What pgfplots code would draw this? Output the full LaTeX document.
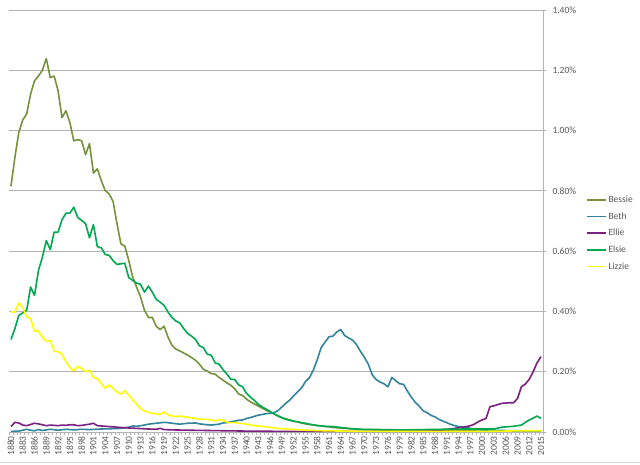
\documentclass[border=0pt]{standalone}
\usepackage{fontspec}
\setmainfont{Carlito}
\usepackage{pgfplots}
\pgfplotsset{compat=1.18}
\definecolor{cBessie}{HTML}{76923C}
\definecolor{cBeth}{HTML}{31849B}
\definecolor{cEllie}{HTML}{7A2080}
\definecolor{cElsie}{HTML}{00A84F}
\definecolor{cLizzie}{HTML}{FFFF00}
\definecolor{lbl}{HTML}{595959}
\definecolor{grd}{HTML}{B3B3B3}
\definecolor{brd}{HTML}{D9D9D9}
\begin{document}
\begin{tikzpicture}[x=1pt,y=1pt]
\fill[white] (0,0) rectangle (640,464);
\draw[draw=brd, line width=1pt] (0,1.5) -- (640,1.5);
\begin{axis}[
  at={(9pt,32pt)}, anchor=south west,
  scale only axis, width=534pt, height=422pt,
  xmin=1879.5, xmax=2015.5, ymin=0, ymax=1.4,
  axis x line*=bottom, axis y line*=right,
  axis line style={draw=grd, line width=0.8pt},
  /pgf/number format/assume math mode=true,
  xtick={1880,1883,...,2015},
  minor xtick={1879.5,1880.5,...,2015.5},
  major x tick style={draw=none},
  minor x tick style={draw=grd, line width=0.6pt},
  minor tick length=3pt,
  major tick length=3pt,
  tick align=outside,
  ytick={0,0.2,0.4,0.6,0.8,1.0,1.2,1.4},
  ytick style={draw=grd, line width=0.8pt},
  ymajorgrids, grid style={draw=grd, line width=0.8pt},
  xticklabel style={rotate=90, anchor=east, font=\fontsize{9.5}{10}\selectfont, text=lbl, inner sep=1pt},
  xticklabel={\pgfmathprintnumber[fixed,precision=0,1000 sep={}]{\tick}},
  yticklabel style={anchor=west, font=\fontsize{9.5}{10}\selectfont, text=lbl, xshift=3pt},
  yticklabel={\pgfmathprintnumber[fixed,fixed zerofill,precision=2]{\tick}\%},
  legend style={draw=none, fill=none, at={(rel axis cs:1.080,0.565)}, anchor=north west,
    font=\fontsize{9.5}{10}\selectfont, text=lbl, row sep=4.6pt, inner sep=0pt},
  legend cell align=left,
  legend image code/.code={\draw[#1, line width=1.6pt] (0pt,0pt) -- (19pt,0pt);},
  every axis plot/.append style={line width=1.6pt, line join=round},
  clip=false,
]
\addplot[cBessie] coordinates {
(1880,0.815)(1881,0.911)(1882,0.994)(1883,1.035)(1884,1.055)(1885,1.121)(1886,1.165)(1887,1.181)(1888,1.200)(1889,1.239)
(1890,1.176)(1891,1.181)(1892,1.132)(1893,1.043)(1894,1.066)(1895,1.027)(1896,0.966)(1897,0.970)(1898,0.966)(1899,0.920)
(1900,0.957)(1901,0.859)(1902,0.873)(1903,0.834)(1904,0.801)(1905,0.790)(1906,0.765)(1907,0.691)(1908,0.624)(1909,0.617)
(1910,0.569)(1911,0.514)(1912,0.481)(1913,0.448)(1914,0.404)(1915,0.380)(1916,0.380)(1917,0.351)(1918,0.340)(1919,0.351)
(1920,0.315)(1921,0.288)(1922,0.275)(1923,0.269)(1924,0.262)(1925,0.255)(1926,0.247)(1927,0.238)(1928,0.225)(1929,0.208)
(1930,0.202)(1931,0.194)(1932,0.192)(1933,0.181)(1934,0.172)(1935,0.163)(1936,0.155)(1937,0.143)(1938,0.126)(1939,0.121)
(1940,0.109)(1941,0.100)(1942,0.093)(1943,0.086)(1944,0.079)(1945,0.072)(1946,0.067)(1947,0.060)(1948,0.054)(1949,0.048)
(1950,0.044)(1951,0.040)(1952,0.036)(1953,0.033)(1954,0.030)(1955,0.027)(1956,0.025)(1957,0.023)(1958,0.022)(1959,0.020)
(1960,0.018)(1961,0.017)(1962,0.015)(1963,0.014)(1964,0.013)(1966,0.011)(1970,0.008)(1980,0.005)(1990,0.004)(2000,0.003)(2015,0.003)
};
\addlegendentry{Bessie}
\addplot[cBeth] coordinates {
(1880,0.002)(1882,0.003)(1884,0.009)(1885,0.006)(1886,0.004)(1887,0.008)(1888,0.005)(1890,0.009)(1892,0.006)(1894,0.009)
(1896,0.007)(1898,0.009)(1900,0.008)(1903,0.010)(1906,0.011)(1908,0.012)(1910,0.016)(1911,0.020)(1912,0.019)(1914,0.023)
(1915,0.026)(1917,0.029)(1919,0.032)(1920,0.031)(1921,0.029)(1923,0.026)(1925,0.029)(1927,0.030)(1928,0.027)(1930,0.024)
(1931,0.023)(1933,0.026)(1934,0.030)(1935,0.031)(1936,0.034)(1937,0.036)(1938,0.039)(1939,0.040)(1940,0.045)(1941,0.048)
(1942,0.052)(1943,0.056)(1944,0.058)(1945,0.061)(1946,0.062)(1947,0.064)(1948,0.071)(1949,0.083)(1950,0.095)(1951,0.106)
(1952,0.120)(1953,0.133)(1954,0.146)(1955,0.167)(1956,0.180)(1957,0.205)(1958,0.240)(1959,0.280)(1960,0.298)(1961,0.316)
(1962,0.318)(1963,0.332)(1964,0.340)(1965,0.320)(1966,0.312)(1967,0.305)(1968,0.290)(1969,0.268)(1970,0.248)(1971,0.225)
(1972,0.190)(1973,0.174)(1974,0.166)(1975,0.160)(1976,0.150)(1977,0.181)(1978,0.170)(1979,0.160)(1980,0.158)(1981,0.135)
(1982,0.115)(1983,0.098)(1984,0.085)(1985,0.070)(1986,0.064)(1987,0.055)(1988,0.050)(1989,0.042)(1990,0.036)(1991,0.031)
(1992,0.025)(1993,0.021)(1994,0.018)(1995,0.016)(1996,0.015)(1997,0.012)(1998,0.009)(2000,0.007)(2005,0.005)(2015,0.003)
};
\addlegendentry{Beth}
\addplot[cEllie] coordinates {
(1880,0.018)(1881,0.032)(1882,0.030)(1883,0.023)(1884,0.021)(1885,0.025)(1886,0.029)(1887,0.027)(1888,0.024)(1889,0.021)
(1890,0.023)(1891,0.022)(1892,0.021)(1893,0.023)(1894,0.022)(1895,0.024)(1896,0.024)(1897,0.021)(1898,0.022)(1899,0.024)
(1900,0.026)(1901,0.029)(1902,0.021)(1903,0.020)(1905,0.018)(1907,0.016)(1909,0.014)(1912,0.012)(1915,0.010)(1917,0.009)
(1918,0.012)(1919,0.008)(1921,0.007)(1925,0.006)(1930,0.005)(1935,0.004)(1940,0.003)(1950,0.002)(1985,0.002)(1988,0.005)
(1990,0.007)(1992,0.010)(1993,0.012)(1994,0.014)(1995,0.016)(1996,0.018)(1997,0.021)(1998,0.026)(1999,0.034)(2000,0.040)
(2001,0.045)(2002,0.084)(2003,0.087)(2004,0.091)(2005,0.095)(2006,0.096)(2007,0.097)(2008,0.097)(2009,0.111)(2010,0.150)
(2011,0.159)(2012,0.175)(2013,0.200)(2014,0.230)(2015,0.250)
};
\addlegendentry{Ellie}
\addplot[cElsie] coordinates {
(1880,0.307)(1881,0.343)(1882,0.387)(1883,0.395)(1884,0.404)(1885,0.481)(1886,0.453)(1887,0.536)(1888,0.580)(1889,0.635)
(1890,0.605)(1891,0.663)(1892,0.663)(1893,0.704)(1894,0.726)(1895,0.726)(1896,0.746)(1897,0.712)(1898,0.702)(1899,0.691)
(1900,0.644)(1901,0.688)(1902,0.615)(1903,0.611)(1904,0.589)(1905,0.586)(1906,0.569)(1907,0.556)(1908,0.558)(1909,0.560)
(1910,0.512)(1911,0.503)(1912,0.494)(1913,0.490)(1914,0.464)(1915,0.484)(1916,0.464)(1917,0.440)(1918,0.431)(1919,0.420)
(1920,0.398)(1921,0.380)(1922,0.368)(1923,0.362)(1924,0.343)(1925,0.327)(1926,0.318)(1927,0.307)(1928,0.286)(1929,0.280)
(1930,0.258)(1931,0.255)(1932,0.229)(1933,0.225)(1934,0.207)(1935,0.192)(1936,0.175)(1937,0.174)(1938,0.156)(1939,0.150)
(1940,0.128)(1941,0.115)(1942,0.105)(1943,0.092)(1944,0.083)(1945,0.076)(1946,0.068)(1947,0.060)(1948,0.053)(1949,0.047)
(1950,0.042)(1951,0.039)(1952,0.036)(1953,0.034)(1954,0.031)(1955,0.029)(1956,0.026)(1957,0.024)(1958,0.021)(1960,0.019)
(1962,0.018)(1964,0.015)(1966,0.012)(1969,0.009)(1975,0.008)(1980,0.007)(1985,0.008)(1990,0.009)(1996,0.010)(2003,0.010)
(2004,0.013)(2005,0.016)(2006,0.017)(2007,0.018)(2008,0.019)(2009,0.021)(2010,0.023)(2011,0.032)(2012,0.040)(2013,0.046)
(2014,0.053)(2015,0.045)
};
\addlegendentry{Elsie}
\addplot[cLizzie] coordinates {
(1880,0.398)(1881,0.398)(1882,0.428)(1883,0.413)(1884,0.382)(1885,0.376)(1886,0.335)(1887,0.335)(1888,0.315)(1889,0.301)
(1890,0.304)(1891,0.268)(1892,0.266)(1893,0.258)(1894,0.233)(1895,0.214)(1896,0.203)(1897,0.218)(1898,0.211)(1899,0.200)
(1900,0.205)(1901,0.181)(1902,0.178)(1903,0.161)(1904,0.145)(1905,0.156)(1906,0.145)(1907,0.133)(1908,0.126)(1909,0.137)
(1910,0.122)(1911,0.106)(1912,0.092)(1913,0.078)(1914,0.070)(1915,0.065)(1916,0.062)(1917,0.060)(1918,0.058)(1919,0.067)
(1920,0.057)(1921,0.053)(1922,0.051)(1923,0.053)(1924,0.051)(1925,0.049)(1926,0.047)(1927,0.045)(1928,0.043)(1929,0.042)
(1930,0.042)(1931,0.040)(1932,0.037)(1933,0.040)(1934,0.040)(1935,0.032)(1936,0.031)(1937,0.031)(1938,0.029)(1939,0.028)
(1940,0.026)(1941,0.024)(1942,0.021)(1943,0.020)(1945,0.017)(1948,0.012)(1950,0.010)(1955,0.006)(1960,0.004)(1970,0.002)
(2000,0.002)(2005,0.003)(2010,0.004)(2015,0.004)
};
\addlegendentry{Lizzie}
\end{axis}
\pgfresetboundingbox
\useasboundingbox (0,0) rectangle (640,464);
\end{tikzpicture}
\end{document}
